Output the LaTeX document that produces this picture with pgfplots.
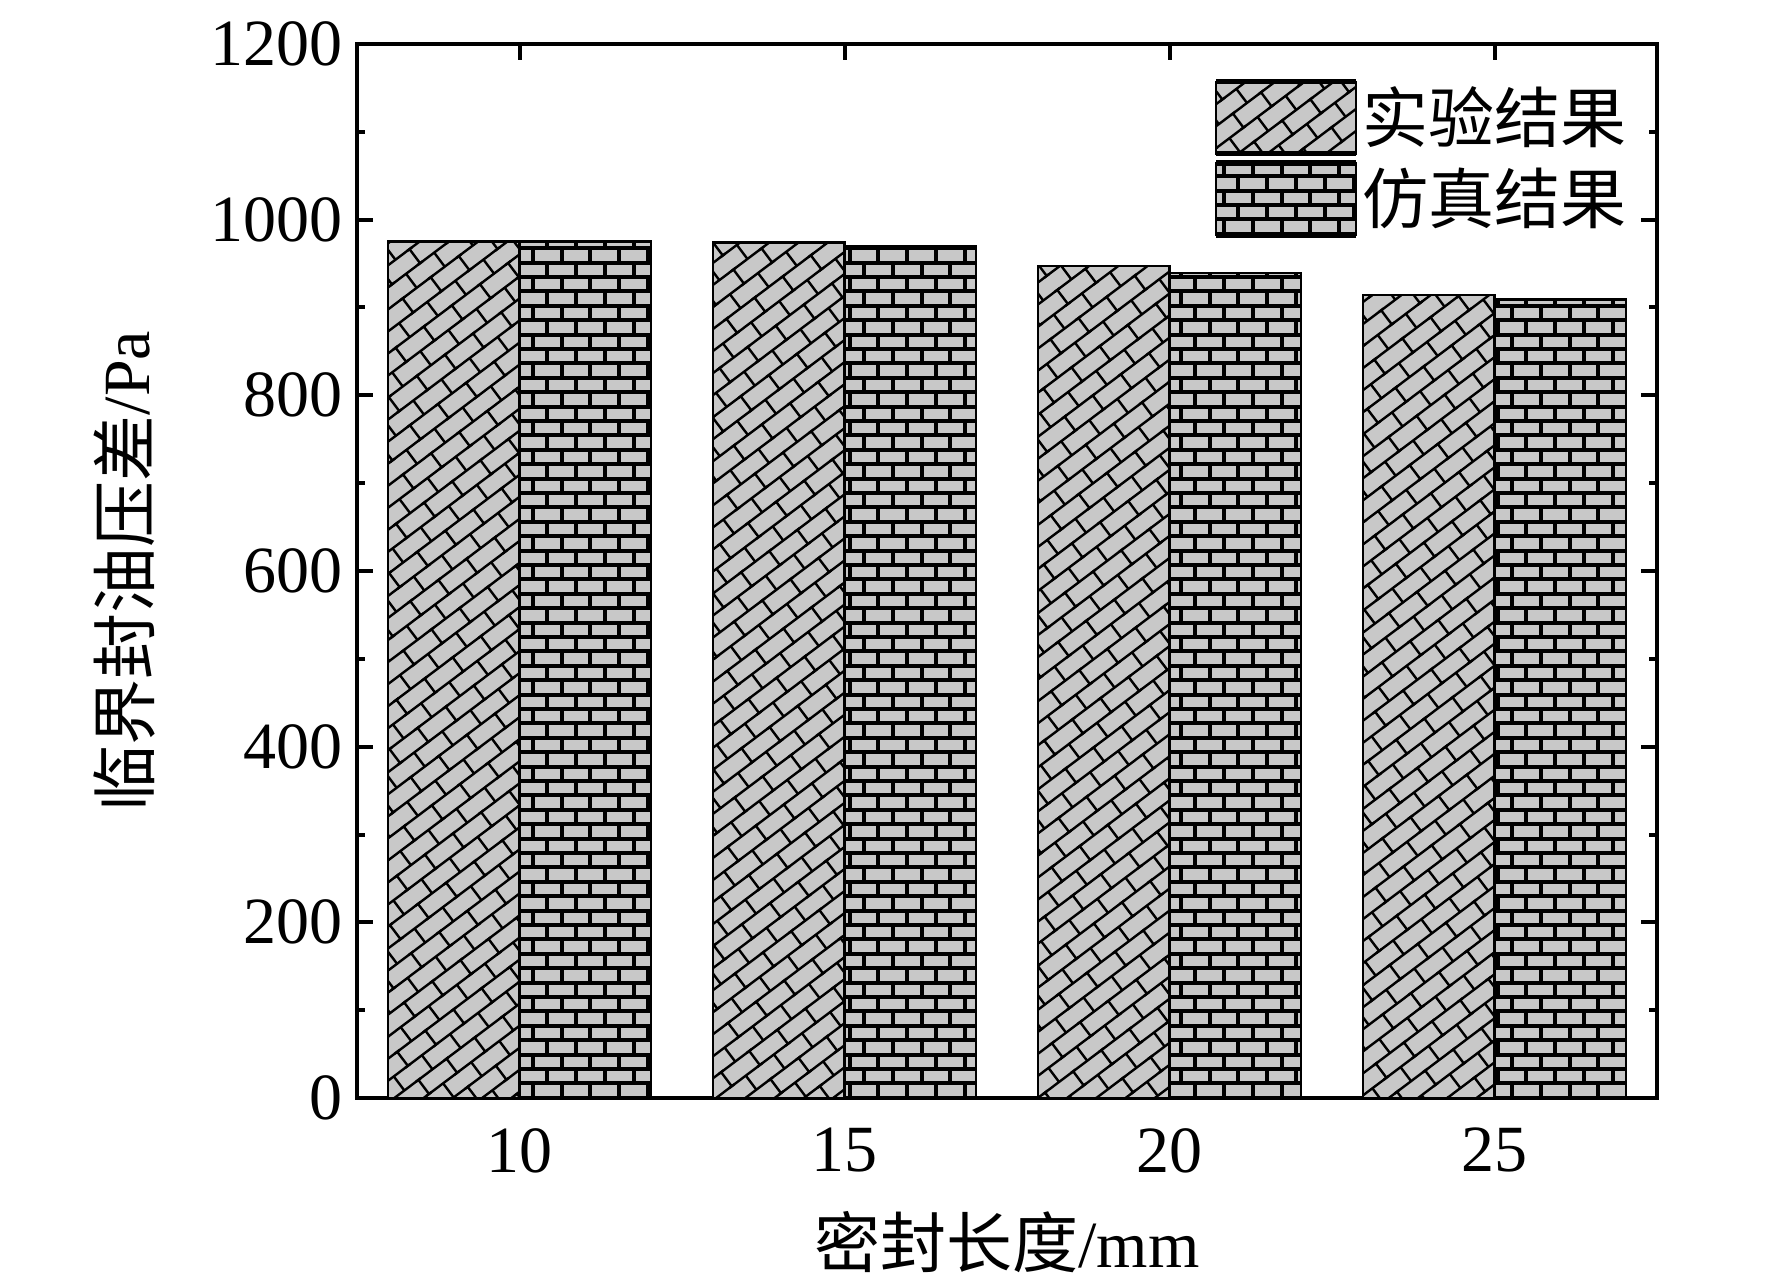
\documentclass[border=0pt]{standalone}
\usepackage{pgfplots}
\pgfplotsset{compat=1.18}
\usepackage{fontspec}
\setmainfont{Liberation Serif}
\newfontfamily\cjk{Noto Sans CJK SC}
\usetikzlibrary{patterns.meta}
\definecolor{barfill}{RGB}{200,200,200}
\tikzdeclarepattern{
  name=hbricks,
  type=uncolored,
  bounding box={(-0.8pt,-0.8pt) and (8pt,8pt)},
  tile size={(7.2pt,7.2pt)},
  code={
    \draw[line width=1.0pt] (-0.8pt,0) -- (8pt,0);
    \draw[line width=1.0pt] (-0.8pt,3.6pt) -- (8pt,3.6pt);
    \draw[line width=1.0pt] (0,0) -- (0,3.6pt);
    \draw[line width=1.0pt] (3.6pt,3.6pt) -- (3.6pt,7.2pt);
  }
}
\tikzdeclarepattern{
  name=dbricks,
  type=uncolored,
  bounding box={(-0.8pt,-0.8pt) and (9.6pt,9.6pt)},
  tile size={(8.8pt,8.8pt)},
  tile transformation={rotate=37},
  code={
    \draw[line width=0.6pt] (-0.8pt,0) -- (9.6pt,0);
    \draw[line width=0.6pt] (-0.8pt,4.4pt) -- (9.6pt,4.4pt);
    \draw[line width=0.6pt] (0,0) -- (0,4.4pt);
    \draw[line width=0.6pt] (4.4pt,4.4pt) -- (4.4pt,8.8pt);
  }
}
\pgfplotstableread{
x exp sim
0 975 975
1 974 970
2 947 939
3 914 909
}\datatable
\begin{document}
\begin{tikzpicture}[font=\fontsize{16.5}{20}\selectfont]
\begin{axis}[
  scale only axis,
  width=325pt, height=263.5pt,
  xmin=-0.5, xmax=3.5,
  ymin=0, ymax=1200,
  ybar=0pt,
  bar width=0.405,
  xtick={0,1,2,3},
  xticklabels={10,15,20,25},
  ytick={0,200,400,600,800,1000,1200},
  minor y tick num=1,
  tick align=inside,
  major tick length=4pt,
  minor tick length=2pt,
  tick style={line width=1pt, black},
  axis line style={line width=1pt},
  /pgf/number format/assume math mode=true,
  /pgf/number format/1000 sep={},
  tick label style={font=\fontsize{16.5}{20}\selectfont},
  xticklabel style={yshift=-4pt},
  label style={font=\fontsize{16.5}{20}\selectfont},
  xlabel={{\cjk 密封长度}/mm},
  ylabel={{\cjk 临界封油压差}/Pa},
  xlabel style={at={(axis description cs:0.5,0)}, anchor=center, yshift=-36pt},
  ylabel style={at={(axis description cs:-0.1785,0.5)}, anchor=center},
  legend style={at={(rel axis cs:0.649,0.975)}, anchor=north west, draw=none, fill=none,
    font=\fontsize{16.5}{20}\selectfont, row sep=1pt,
    nodes={inner sep=1pt}},
  legend cell align=left,
  legend image code/.code={
    \draw[#1] (0pt,-9pt) rectangle (35pt,9pt);
    \draw[line width=1.3pt] (0pt,-9pt) -- (35pt,-9pt) (0pt,9pt) -- (35pt,9pt);
  },
]
\addplot[draw=black, line width=0.6pt, fill=barfill, postaction={pattern=dbricks, pattern color=black}] table[x=x, y=exp] {\datatable};
\addplot[draw=black, line width=0.6pt, fill=barfill, postaction={pattern=hbricks, pattern color=black}] table[x=x, y=sim] {\datatable};
\legend{{\cjk 实验结果},{\cjk 仿真结果}}
\end{axis}
\pgfresetboundingbox
\path[use as bounding box] ([xshift=-89.25pt,yshift=-46.75pt]current axis.south west) rectangle ([xshift=28.75pt,yshift=11pt]current axis.north east);
\end{tikzpicture}
\end{document}
